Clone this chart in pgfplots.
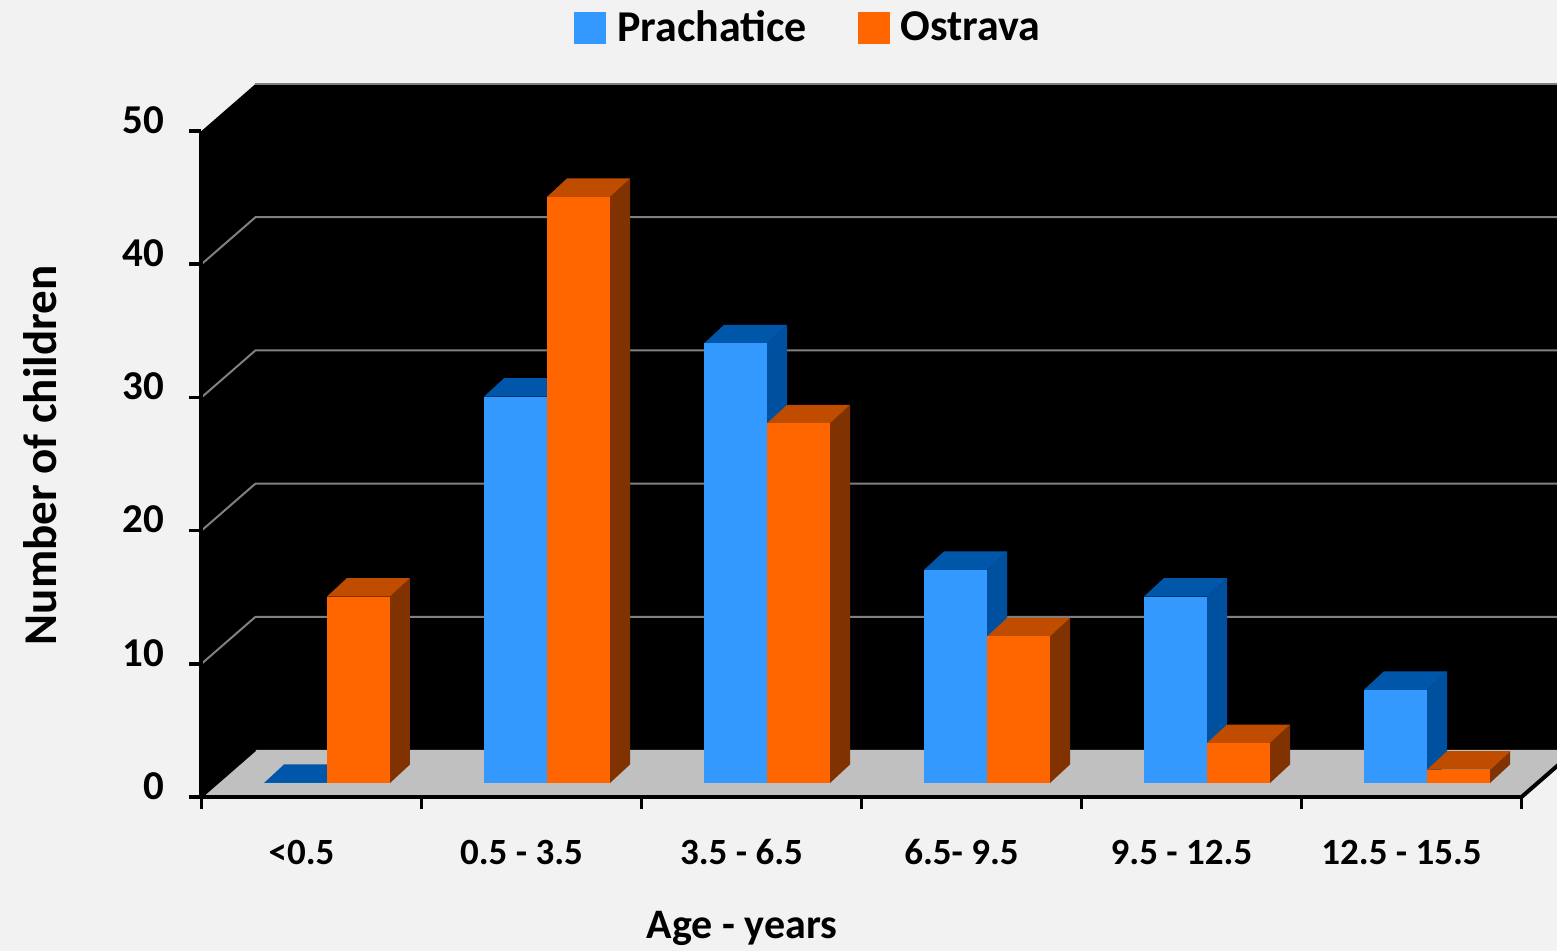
\documentclass[border=0pt]{standalone}
\usepackage{pgfplots}
\usepackage{pgfplotstable}
\pgfplotsset{compat=1.18}
\usepackage{fontspec}
\setmainfont{Carlito}

\definecolor{bgcol}{HTML}{F2F2F2}
\definecolor{gridgray}{HTML}{808080}
\definecolor{floorgray}{HTML}{C0C0C0}
\definecolor{pfront}{HTML}{3399FF}
\definecolor{ptop}{HTML}{0056A8}
\definecolor{pside}{HTML}{0050A0}
\definecolor{ofront}{HTML}{FF6600}
\definecolor{otop}{HTML}{C04C00}
\definecolor{oside}{HTML}{803300}

% number of children by age group
\pgfplotstableread{
idx P O
0 0 14
1 29 44
2 33 27
3 16 11
4 14 3
5 7 1
}\agedata

% geometry of the pseudo-3D bars (axis units)
\def\ybase{1.051}
\def\ddx{0.0909}
\def\ddy{1.389}

\newcommand\drawbar[6]{%
  \pgfmathsetmacro\xa{#1}\pgfmathsetmacro\xb{#2}%
  \pgfmathsetmacro\ya{\ybase}\pgfmathsetmacro\yb{\ybase+#3}%
  \pgfmathsetmacro\xc{\xa+\ddx}\pgfmathsetmacro\xd{\xb+\ddx}%
  \pgfmathsetmacro\yc{\ya+\ddy}\pgfmathsetmacro\yd{\yb+\ddy}%
  \edef\temp{%
   \noexpand\addplot[fill=#6,draw=none,forget plot] coordinates {(\xb,\ya) (\xd,\yc) (\xd,\yd) (\xb,\yb)} -- cycle;
   \noexpand\addplot[fill=#5,draw=none,forget plot] coordinates {(\xa,\yb) (\xb,\yb) (\xd,\yd) (\xc,\yd)} -- cycle;
   \noexpand\addplot[fill=#4,draw=none,forget plot] coordinates {(\xa,\ya) (\xb,\ya) (\xb,\yb) (\xa,\yb)} -- cycle;
  }\temp}

\begin{document}
\begin{tikzpicture}
\fill[bgcol] (-100.75pt,-77pt) rectangle (677.75pt,398.5pt);
\begin{axis}[
  at={(0,0)}, anchor=origin,
  x=110pt, y=6.66pt,
  xmin=0, xmax=6, ymin=0, ymax=50,
  enlargelimits=false,
  clip=false,
  axis on top,
  axis x line*=bottom, axis y line*=left,
  axis line style={-, line width=2pt, black},
  tick align=outside,
  major tick length=6pt,
  tick style={line width=1.75pt, black},
  xtick={0,1,...,6},
  xticklabels={,,,,,,},
  extra x ticks={0.5,1.5,2.5,3.5,4.5,5.5},
  extra x tick labels={{<0.5},{0.5 - 3.5},{3.5 - 6.5},{6.5- 9.5},{9.5 - 12.5},{12.5 - 15.5}},
  extra x tick style={major tick length=0pt, tick label style={font=\bfseries\fontsize{18.5}{22}\selectfont, anchor=center, yshift=-27.5pt, xshift=-5pt}},
  ytick={0,10,...,50},
  yticklabels={0,10,20,30,40,50},
  yticklabel style={font=\bfseries\fontsize{20.5}{24}\selectfont, anchor=east, inner sep=0pt, yshift=5.5pt, xshift=-12.5pt},
  xlabel={Age - years},
  xlabel style={font=\bfseries\fontsize{21}{25}\selectfont, at={(axis description cs:0.4095,-0.198)}, anchor=center},
  ylabel={Number of children},
  ylabel style={font=\bfseries\fontsize{23.5}{28}\selectfont, at={(axis description cs:-0.1223,0.5131)}, anchor=center, rotate=0},
  legend columns=2,
  legend style={draw=none, fill=none, inner sep=0pt, at={(axis description cs:0.2822,1.1553)}, anchor=west,
    font=\bfseries\fontsize{22}{26}\selectfont, /tikz/every even column/.append style={column sep=23.5pt}},
]
% back and side walls
\addplot[fill=black, draw=none, forget plot] coordinates {(0,0) (0,50) (0.24545,53.529) (6.3,53.529) (6.3,3.529) (0.24545,3.529)} -- cycle;
% grid lines on the walls
\addplot[gridgray, line width=1pt, forget plot] coordinates {(0,10) (0.24545,13.529) (6.3,13.529)};
\addplot[gridgray, line width=1pt, forget plot] coordinates {(0,20) (0.24545,23.529) (6.3,23.529)};
\addplot[gridgray, line width=1pt, forget plot] coordinates {(0,30) (0.24545,33.529) (6.3,33.529)};
\addplot[gridgray, line width=1pt, forget plot] coordinates {(0,40) (0.24545,43.529) (6.3,43.529)};
\addplot[gridgray, line width=1pt, forget plot] coordinates {(0.24545,53.529) (6.3,53.529)};
% floor
\addplot[fill=floorgray, draw=none, forget plot] coordinates {(0,0) (6,0) (6.24545,3.529) (0.24545,3.529)} -- cycle;
\addplot[black, line width=2pt, forget plot] coordinates {(6,0) (6.24545,3.529)};
\addplot[black, line width=1pt, forget plot] coordinates {(0,0) (0.24545,3.529)};
% bars
\pgfplotsinvokeforeach{0,...,5}{
  \pgfplotstablegetelem{#1}{P}\of\agedata \let\vP\pgfplotsretval
  \pgfplotstablegetelem{#1}{O}\of\agedata \let\vO\pgfplotsretval
  \drawbar{#1+0.2841}{#1+0.5705}{\vP}{pfront}{ptop}{pside}
  \drawbar{#1+0.5705}{#1+0.8568}{\vO}{ofront}{otop}{oside}
}
\addlegendimage{legend image code/.code={\fill[pfront] (0pt,-7.75pt) rectangle (15.5pt,7.75pt); \path (19pt,0pt);}}
\addlegendentry{Prachatice}
\addlegendimage{legend image code/.code={\fill[ofront] (0pt,-7.75pt) rectangle (15.5pt,7.75pt); \path (19pt,0pt);}}
\addlegendentry{Ostrava}
\end{axis}
\pgfresetboundingbox
\useasboundingbox (-100.75pt,-77pt) rectangle (677.75pt,398.5pt);
\end{tikzpicture}
\end{document}
